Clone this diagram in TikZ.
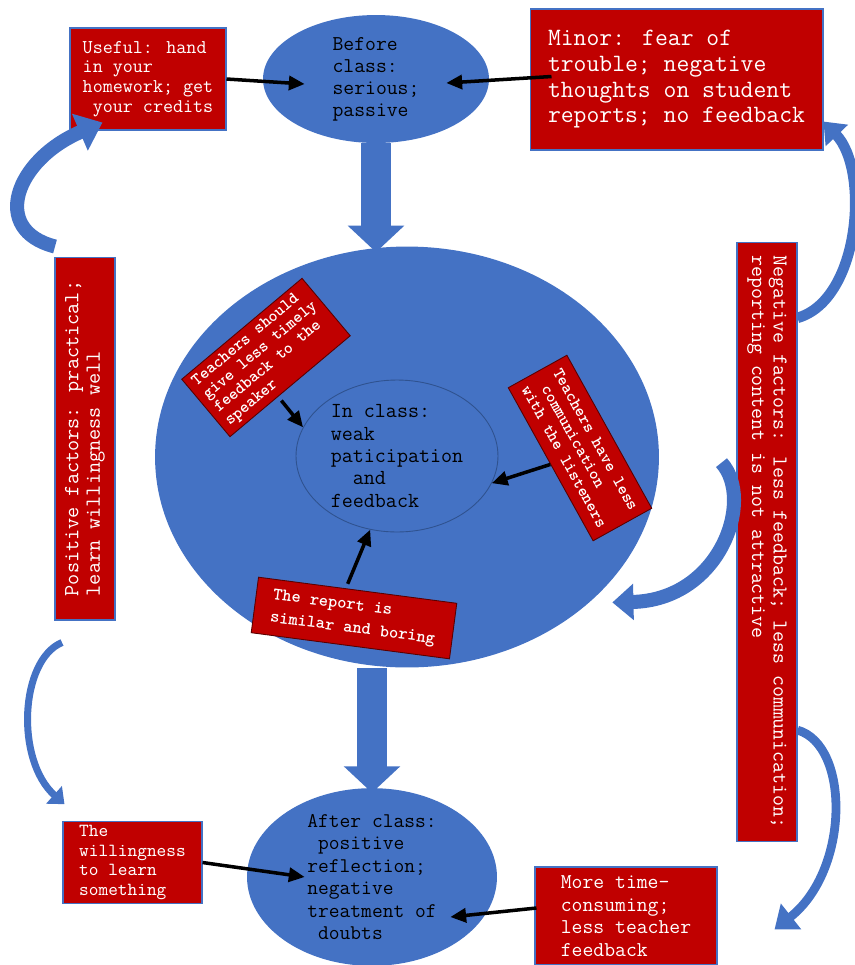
\documentclass[tikz,border=0pt]{standalone}
\usepackage{fontspec}
\usepackage{tikz}
\usetikzlibrary{arrows.meta,calc,shapes.geometric}
\definecolor{ovalblue}{HTML}{4472C4}
\definecolor{boxred}{HTML}{C00000}
\definecolor{coreline}{HTML}{2F528F}
\newcommand{\fs}[2]{\ttfamily\fontsize{#1pt}{#2pt}\selectfont}

\begin{document}
\begin{tikzpicture}[x=0.02cm,y=-0.02cm,
  phase/.style={ellipse,fill=ovalblue,inner sep=0pt,align=left,text=black},
  factor/.style={draw=ovalblue,line width=0.6pt,fill=boxred,text=white,align=left,inner sep=2pt},
  inbox/.style={draw=red!35!black,line width=0.5pt,fill=boxred,text=white,align=left,inner sep=2pt},
  arr/.style={-{Triangle[length=9pt,width=8pt]},line width=2pt,black},
  flow/.style={-{Triangle[length=0.53cm,width=1.1cm]},line width=0.6cm,ovalblue},
  swing/.style={draw=ovalblue,line width=#1}]
  \useasboundingbox (0,0) rectangle (855,965);

  % in class
  \node[phase,minimum width=10.08cm,minimum height=8.42cm] (incl) at (407,457) {};
  \node[phase,draw=coreline,line width=0.5pt,minimum width=4.04cm,minimum height=3.04cm,font=\fs{12.2}{12.8}] (core) at (397,456) {In class:\\weak\\paticipation\\~~and\\feedback};
  \node[inbox,rotate=40,minimum width=3.14cm,minimum height=1.5cm,font=\fs{9.7}{9.8}\bfseries] (tbox1) at (266,357.5) {Teachers should\\give less timely\\feedback to the\\speaker};
  \node[inbox,rotate=-61,minimum width=3.5cm,minimum height=1.34cm,font=\fs{9.6}{10.2}\bfseries] (tbox2) at (580,448) {Teachers have less\\~communication\\with the listeners};
  \node[inbox,rotate=-7.5,minimum width=4cm,minimum height=1.12cm,font=\fs{10}{13}\bfseries] (tbox3) at (354,618) {The report is\\similar and boring};

  % before / after
  \node[phase,minimum width=4.52cm,minimum height=2.56cm,font=\fs{12}{12.5}] (bc) at (376,79) {Before\\class:\\serious;\\passive};
  \draw[flow,shorten >=-0.12cm] (bc.south) -- (bc.south |- incl.north);
  \node[phase,minimum width=5cm,minimum height=3.28cm,font=\fs{11.9}{12.8}] (ac) at (372,877) {After class:\\~positive\\reflection;\\negative\\treatment of\\~doubts};
  \draw[flow,shorten >=-0.1cm] (ac.north |- incl.south) -- (ac.north);

  % factors
  \node[factor,minimum width=3.12cm,minimum height=2.04cm,font=\fs{11.1}{11.3}] (useful) at (148,79) {Useful: hand\\in your\\homework; get\\~your credits};
  \node[factor,minimum width=5.86cm,minimum height=2.82cm,font=\fs{14.2}{14.6}] (minor) at (676.5,79.5) {Minor: fear of\\trouble; negative\\thoughts on student\\reports; no feedback};
  \node[factor,rotate=90,minimum width=7.26cm,minimum height=1.2cm,font=\fs{12.3}{12.3}] (pos) at (85,438.5) {Positive factors: practical;\\learn willingness well};
  \node[factor,rotate=-90,minimum width=12cm,minimum height=1.2cm,font=\fs{12.1}{12.1}] (neg) at (767,542) {Negative factors: less feedback; less communication;\\reporting content is not attractive};
  \node[factor,minimum width=2.78cm,minimum height=1.62cm,font=\fs{10.5}{11.2}] (will) at (132.5,862.5) {The\\willingness\\to learn\\something};
  \node[factor,minimum width=3.64cm,minimum height=1.96cm,font=\fs{12}{12.9}] (more) at (626,916) {More time-\\consuming;\\less teacher\\feedback};

  % black arrows
  \draw[arr] (useful.east) -- ($(bc.west)+(42,5)$);
  \draw[arr] ($(minor.west)+(22,-3)$) -- ($(bc.east)+(-43,4)$);
  \draw[arr] ($(tbox1.south)+(-9,14)$) -- (core.163);
  \draw[arr] (tbox2.south) -- (core.-16);
  \draw[arr] ($(tbox3.north)+(-10,-6)$) -- (core.-110);
  \draw[arr] (will.east) -- ($(ac.west)+(58,0)$);
  \draw[arr] ($(more.west)+(2,-8)$) -- ($(ac.east)+(-47,40)$);

  % curved arrows
  \draw[swing=8pt,-{Triangle[length=14pt,width=22pt]}] ($(pos.east)+(-30,-10)$) .. controls (-10,230) and (15,160) .. ($(useful.south west)+(33,-8)$);
  \draw[swing=4pt,-{Triangle[length=8pt,width=13pt]}] ($(pos.west)+(-23,22)$) .. controls (20,660) and (15,760) .. ($(will.north west)+(2,-17)$);
  \draw[swing=6pt,-{Triangle[length=11pt,width=17pt]}] ($(neg.north west)!0.127!(neg.north east)$) .. controls (860,300) and (870,170) .. ($(minor.south east)+(0,-29)$);
  \draw[swing=8pt,-{Triangle[length=12pt,width=20pt]}] ($(neg.south west)!0.368!(neg.south east)+(-15,0)$) .. controls (755,500) and (720,600) .. ($(incl.-35)+(12,10)$);
  \draw[swing=5pt,-{Triangle[length=12pt,width=18pt]}] ($(neg.north west)!0.813!(neg.north east)$) .. controls (850,745) and (850,870) .. ($(more.north east)+(57,63)$);
\end{tikzpicture}
\end{document}
